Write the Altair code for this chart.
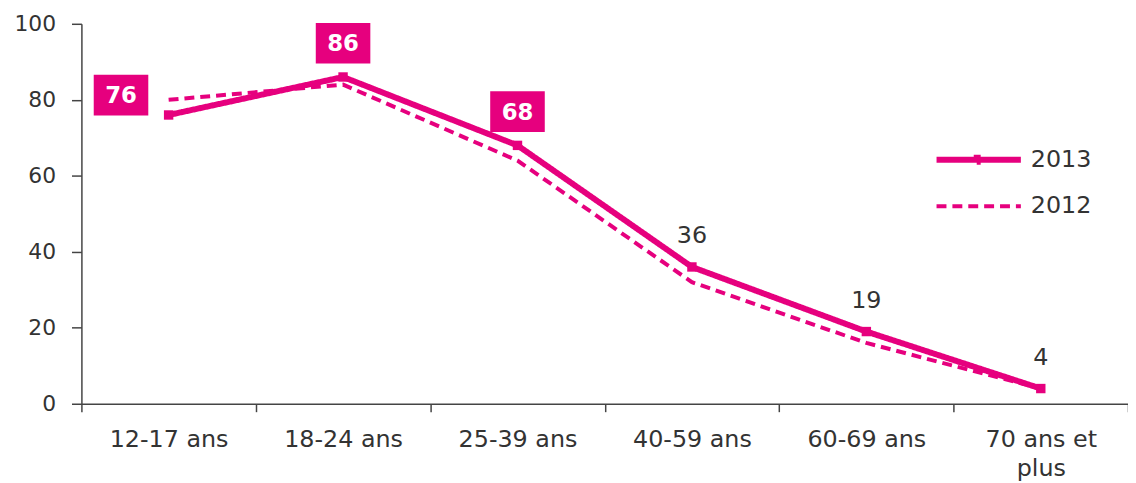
import altair as alt
import pandas as pd

categories = ["12-17 ans", "18-24 ans", "25-39 ans", "40-59 ans", "60-69 ans", "70 ans et plus"]
v2013 = [76, 86, 68, 36, 19, 4]
v2012 = [80, 84, 64, 32, 16, 4]
years = ["2013", "2012"]
boxed_left = ["12-17 ans"]
boxed_above = ["18-24 ans", "25-39 ans"]
plain = ["40-59 ans", "60-69 ans", "70 ans et plus"]

MAGENTA = "#E6007E"
TXT = "#333333"
FONT = "DejaVu Sans"

rows = []
for c, a, b in zip(categories, v2013, v2012):
    rows.append({"cat": c, "year": "2013", "value": a})
    rows.append({"cat": c, "year": "2012", "value": b})
df = pd.DataFrame(rows)
d13 = df[df.year == "2013"]

x_enc = alt.X(
    "cat:N", sort=categories, title=None,
    scale=alt.Scale(paddingInner=0, paddingOuter=0),
    axis=alt.Axis(
        labelAngle=0, labelFontSize=24, labelColor=TXT, labelFont=FONT,
        labelPadding=16, tickSize=8, tickColor="#444444", domainColor="#444444",
        domainWidth=1.5, tickWidth=1.5, tickBand="extent", labelLineHeight=29,
        grid=False,
        labelExpr="datum.label == '70 ans et plus' ? ['70 ans et', 'plus'] : datum.label",
    ),
)
y_enc = alt.Y(
    "value:Q", title=None,
    scale=alt.Scale(domain=[0, 100], nice=False),
    axis=alt.Axis(
        values=[0, 20, 40, 60, 80, 100], labelFontSize=22, labelColor=TXT, labelFont=FONT,
        labelPadding=16, tickSize=10, grid=False, tickColor="#444444", domainColor="#444444",
        domainWidth=1.5, tickWidth=1.5,
    ),
)

LEG_SIZE = 400
leg_paths = [
    "M0,0L8.5,0M4.05,-0.2L4.45,-0.2L4.45,0.2L4.05,0.2Z",
    "M0,0L8.5,0",
]
legend_common = dict(
    orient="none", legendX=849, legendY=124, title=None, labelFontSize=24,
    labelColor=TXT, labelFont=FONT, labelOffset=82, rowPadding=21,
    symbolSize=LEG_SIZE, symbolStrokeColor=MAGENTA, symbolOpacity=1,
)

lines = alt.Chart(df).mark_line(color=MAGENTA, strokeCap="butt").encode(
    x=x_enc, y=y_enc,
    strokeDash=alt.StrokeDash(
        "year:N", scale=alt.Scale(domain=years, range=[[1, 0], [10, 6]]),
        legend=alt.Legend(**legend_common),
    ),
    strokeWidth=alt.StrokeWidth(
        "year:N", scale=alt.Scale(domain=years, range=[6, 4]),
        legend=alt.Legend(**legend_common),
    ),
    detail="year:N",
)

# legend-only layer: gives the legend its line-with-marker symbols
legend_shapes = alt.Chart(df).transform_filter("false").mark_point(
    filled=False, color=MAGENTA, opacity=1
).encode(
    x=x_enc, y=y_enc,
    shape=alt.Shape(
        "year:N", scale=alt.Scale(domain=years, range=leg_paths),
        legend=alt.Legend(**legend_common),
    ),
)

squares = alt.Chart(d13).mark_point(filled=True, color=MAGENTA, opacity=1, shape="square", size=90).encode(
    x=x_enc, y=y_enc,
)

box_above_path = "M-2.75,-5.45L2.75,-5.45L2.75,-1.35L-2.75,-1.35Z"
box_left_path = "M-7.55,-4.05L-2.05,-4.05L-2.05,0.05L-7.55,0.05Z"

box_above = alt.Chart(d13).transform_filter(
    alt.FieldOneOfPredicate(field="cat", oneOf=boxed_above)
).mark_point(filled=True, color=MAGENTA, opacity=1, shape=box_above_path, size=400).encode(x=x_enc, y=y_enc)
box_left = alt.Chart(d13).transform_filter(
    alt.FieldOneOfPredicate(field="cat", oneOf=boxed_left)
).mark_point(filled=True, color=MAGENTA, opacity=1, shape=box_left_path, size=400).encode(x=x_enc, y=y_enc)

txt_above = alt.Chart(d13).transform_filter(
    alt.FieldOneOfPredicate(field="cat", oneOf=boxed_above)
).mark_text(color="white", fontWeight="bold", fontSize=23, font=FONT, baseline="middle", dy=-33).encode(
    x=x_enc, y=y_enc, text="value:Q")
txt_left = alt.Chart(d13).transform_filter(
    alt.FieldOneOfPredicate(field="cat", oneOf=boxed_left)
).mark_text(color="white", fontWeight="bold", fontSize=23, font=FONT, baseline="middle", dx=-48, dy=-19).encode(
    x=x_enc, y=y_enc, text="value:Q")
txt_plain = alt.Chart(d13).transform_filter(
    alt.FieldOneOfPredicate(field="cat", oneOf=plain)
).mark_text(color=TXT, fontSize=24, font=FONT, baseline="alphabetic", dy=-24).encode(
    x=x_enc, y=y_enc, text="value:Q")

chart = alt.layer(
    lines, legend_shapes, squares, box_above, box_left, txt_above, txt_left, txt_plain
).properties(
    width=1055, height=383,
    autosize=alt.AutoSizeParams(type="none"),
    padding={"left": 74, "top": 14, "right": 0, "bottom": 82},
).configure(font=FONT).configure_view(stroke="transparent", strokeWidth=0).configure_axis(grid=False)

chart.save("out.html", embed_options={"renderer": "svg", "actions": False})
